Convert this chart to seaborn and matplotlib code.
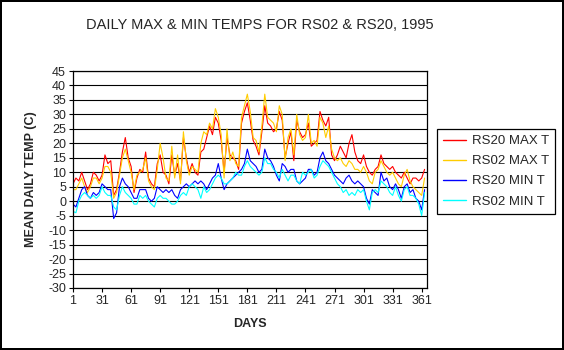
import numpy as np
import pandas as pd
import matplotlib
matplotlib.use("Agg")
import matplotlib.pyplot as plt
import seaborn as sns

# ---- data (every 3rd day) ----
days = list(range(1, 365, 3))

rs20_max = [6, 8, 7, 10, 7, 4, 6, 10, 9, 7,
            9, 16, 13, 14, 2, 4, 10, 17, 22, 15,
            12, 3, 8, 11, 10, 17, 8, 6, 5, 13,
            16, 10, 9, 6, 16, 9, 13, 7, 22, 15,
            10, 13, 10, 9, 17, 18, 22, 26, 23, 29,
            27, 21, 10, 22, 16, 15, 14, 11, 27, 31,
            34, 28, 21, 19, 16, 24, 33, 27, 26, 24,
            25, 31, 28, 15, 20, 24, 14, 28, 24, 22,
            23, 27, 19, 20, 21, 31, 28, 26, 29, 16,
            14, 16, 19, 17, 15, 20, 23, 17, 14, 13,
            16, 12, 10, 9, 11, 12, 16, 13, 12, 11,
            12, 10, 9, 8, 10, 8, 6, 8, 8, 7,
            8, 11]

rs02_max = [4, 4, 6, 8, 5, 3, 5, 8, 8, 6,
            8, 12, 12, 10, 1, 3, 9, 15, 18, 14,
            10, 4, 9, 10, 11, 15, 7, 5, 4, 11,
            20, 15, 8, 7, 19, 8, 16, 6, 24, 14,
            9, 12, 11, 10, 20, 24, 23, 27, 25, 32,
            29, 23, 8, 25, 14, 17, 13, 12, 29, 33,
            37, 31, 22, 21, 17, 26, 37, 29, 28, 27,
            24, 33, 30, 14, 22, 25, 16, 30, 23, 21,
            22, 30, 20, 21, 19, 29, 27, 22, 26, 18,
            15, 14, 15, 13, 12, 14, 13, 11, 11, 10,
            12, 10, 7, 6, 10, 11, 14, 12, 10, 9,
            10, 8, 6, 5, 9, 11, 7, 5, 4, 3,
            2, 8]

rs20_min = [-1, -2, 1, 4, 5, 2, 1, 3, 2, 3,
            6, 5, 4, 4, -6, -4, 5, 8, 6, 5,
            3, 1, 1, 4, 4, 4, 1, 0, 1, 5,
            4, 3, 4, 3, 4, 2, 1, 4, 5, 6,
            5, 6, 7, 6, 7, 6, 4, 6, 8, 9,
            13, 8, 4, 6, 7, 8, 9, 10, 11, 13,
            18, 14, 13, 12, 10, 11, 18, 15, 14, 12,
            9, 7, 13, 12, 10, 11, 11, 7, 6, 7,
            8, 11, 11, 9, 10, 15, 17, 14, 13, 11,
            9, 8, 7, 6, 8, 9, 7, 6, 7, 6,
            5, 1, -1, 4, 3, 2, 10, 7, 8, 5,
            4, 6, 4, 1, 5, 6, 3, 4, 1, 0,
            -3, 4]

rs02_min = [-3.5, -4, 0, 2, 3, 2, 1, 2, 1, 2,
            5, 3, 2, 2, -2, -3, 2, 5, 3, 2,
            1, -1, -1, 2, 1, 2, 0, -1, -2, 1,
            2, 1, 1, 0, -1, -1, 0, 2, 3, 2,
            5, 6, 5, 4, 1, 5, 3, 4, 6, 8,
            9, 8, 6, 6, 7, 8, 10, 9, 9, 12,
            14, 12, 11, 10, 9, 10, 15, 13, 13, 11,
            10, 8, 11, 9, 7, 9, 9, 7, 6, 10,
            9, 10, 11, 8, 9, 12, 14, 13, 12, 10,
            8, 6, 5, 3, 4, 2, 3, 2, 4, 3,
            4, 0, -3, 3, 4, 3, 7, 6, 5, 3,
            2, 5, 2, 0, 4, 5, 2, 2, 1, -1,
            -5, 3]

series_names = ["RS20 MAX T", "RS02 MAX T", "RS20 MIN T", "RS02 MIN T"]
series_colors = ["#FF0000", "#FFCC00", "#0000FF", "#00FFFF"]
x_ticks = list(range(1, 362, 30))
y_ticks = list(range(-30, 46, 5))

df = pd.concat([
    pd.DataFrame({"day": days, "temp": vals, "series": name})
    for name, vals in zip(series_names, [rs20_max, rs02_max, rs20_min, rs02_min])
], ignore_index=True)

# ---- styling ----
sns.set_style("white")
plt.rcParams["font.family"] = ["Liberation Sans", "DejaVu Sans"]

fig = plt.figure(figsize=(5.64, 3.5), dpi=100)
fig.patch.set_facecolor("white")
fig.patch.set_edgecolor("black")
fig.patch.set_linewidth(1.5)

ax = fig.add_axes([73 / 564, 1 - 288 / 350, (427 - 73) / 564, (288 - 71) / 350])

sns.lineplot(data=df, x="day", y="temp", hue="series", hue_order=series_names,
             palette=dict(zip(series_names, series_colors)), linewidth=0.8,
             ax=ax, legend=False, estimator=None, sort=False)

ax.set_xlim(1, 366.5)
ax.set_ylim(-30, 45)
ax.set_xticks(x_ticks)
ax.set_xticklabels([str(t) for t in x_ticks])
ax.set_yticks(y_ticks)
ax.set_yticklabels([str(t) for t in y_ticks])
ax.yaxis.grid(True, color="black", linewidth=0.8)
ax.xaxis.grid(False)
ax.set_axisbelow(True)
for s in ax.spines.values():
    s.set_color("black")
    s.set_linewidth(0.9)
ax.tick_params(axis="both", direction="out", length=3, width=0.8, color="black",
               labelsize=9, pad=2, bottom=True, left=True)

ax.set_xlabel("DAYS", fontsize=9, fontweight="bold", labelpad=8)
ax.set_ylabel("MEAN DAILY TEMP (C)", fontsize=9, fontweight="bold", labelpad=8)

fig.text(260 / 564, 1 - 25 / 350, "DAILY MAX & MIN TEMPS FOR RS02 & RS20, 1995",
         ha="center", va="center", fontsize=10.5)

handles = [plt.Line2D([], [], color=c, lw=1.0) for c in series_colors]
leg = ax.legend(handles, series_names, loc="upper left",
                bbox_to_anchor=(437 / 564, 1 - 129 / 350), bbox_transform=fig.transFigure,
                frameon=True, fancybox=False, framealpha=1, edgecolor="black",
                fontsize=9.5, handlelength=1.75, handletextpad=0.45,
                labelspacing=0.6, borderpad=0.45, borderaxespad=0)
leg.get_frame().set_linewidth(0.9)

fig.savefig("out.png", dpi=100, facecolor="white", edgecolor=fig.get_edgecolor())
